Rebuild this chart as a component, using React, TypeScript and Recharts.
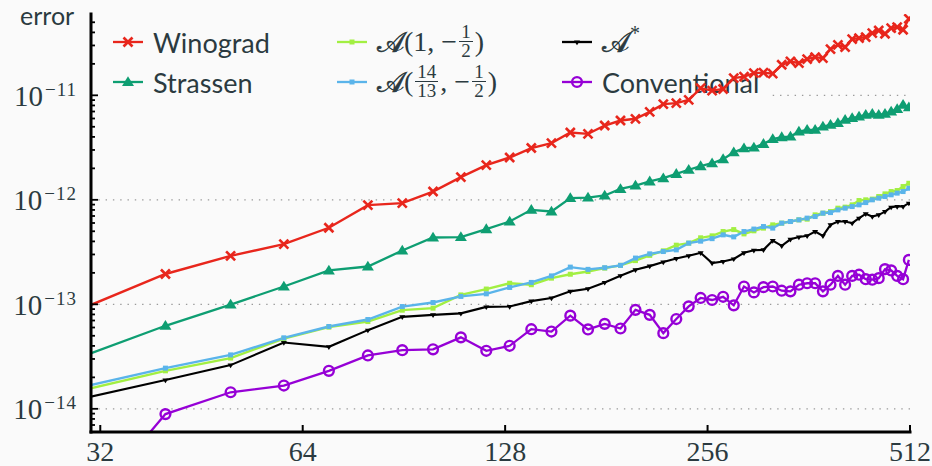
import React from 'react';
import { LineChart, Line, XAxis, YAxis, ReferenceLine } from 'recharts';

// ---------- data ----------
const sizes = [30, 40, 50, 60, 70, 80, 90, 100, 110, 120, 130, 140, 150, 160, 170, 180, 190, 200, 210, 220, 230, 240, 250, 260, 270, 280, 290, 300, 310, 320, 330, 340, 350, 360, 370, 380, 390, 400, 410, 420, 430, 440, 450, 460, 470, 480, 490, 500, 510];

const winograd = [9.06e-14, 1.95e-13, 2.91e-13, 3.77e-13, 5.4e-13, 8.9e-13, 9.3e-13,
  1.2e-12, 1.65e-12, 2.15e-12, 2.54e-12, 3.13e-12, 3.49e-12, 4.41e-12, 4.28e-12, 5.14e-12, 5.74e-12,
  5.96e-12, 6.95e-12, 8.24e-12, 8.42e-12, 9.06e-12, 1.17e-11, 1.11e-11, 1.15e-11, 1.46e-11, 1.51e-11,
  1.63e-11, 1.65e-11, 1.61e-11, 1.96e-11, 2.11e-11, 2.03e-11, 2.22e-11, 2.32e-11, 2.27e-11, 2.77e-11,
  3.04e-11, 2.89e-11, 3.45e-11, 3.53e-11, 3.61e-11, 3.94e-11, 4.17e-11, 3.88e-11, 4.4e-11, 4.5e-11,
  4.24e-11, 5.4e-11];

const strassen = [3.15e-14, 6.23e-14, 9.95e-14, 1.48e-13, 2.11e-13, 2.3e-13, 3.27e-13,
  4.36e-13, 4.4e-13, 5.24e-13, 6.2e-13, 8.02e-13, 7.73e-13, 1.04e-12, 1.05e-12, 1.1e-12, 1.27e-12,
  1.37e-12, 1.5e-12, 1.61e-12, 1.77e-12, 1.94e-12, 2.1e-12, 2.24e-12, 2.45e-12, 2.85e-12, 3.12e-12,
  3.16e-12, 3.43e-12, 3.81e-12, 3.98e-12, 4.03e-12, 4.5e-12, 4.68e-12, 4.68e-12, 5.03e-12, 5.22e-12,
  5.42e-12, 5.83e-12, 6.05e-12, 6.27e-12, 6.51e-12, 6.65e-12, 6.51e-12, 6.65e-12, 7.0e-12, 7.38e-12,
  8.11e-12, 7.68e-12];

const aHalf = [1.5e-14, 2.31e-14, 3.06e-14, 4.7e-14, 6.05e-14, 6.84e-14, 8.79e-14,
  9.19e-14, 1.23e-13, 1.4e-13, 1.59e-13, 1.54e-13, 1.78e-13, 1.94e-13, 2.06e-13, 2.22e-13, 2.36e-13,
  2.62e-13, 2.94e-13, 3.25e-13, 3.68e-13, 3.85e-13, 4.33e-13, 4.52e-13, 4.97e-13, 5.19e-13, 4.72e-13,
  5.05e-13, 5.36e-13, 5.76e-13, 5.98e-13, 6.2e-13, 6.43e-13, 6.53e-13, 7.18e-13, 7.45e-13, 7.72e-13,
  8.32e-13, 8.51e-13, 8.95e-13, 9.84e-13, 1.0e-12, 1.016e-12, 1.075e-12, 1.14e-12, 1.2e-12, 1.227e-12,
  1.34e-12, 1.44e-12];

const aFrac = [1.61e-14, 2.45e-14, 3.28e-14, 4.78e-14, 6.13e-14, 7.15e-14, 9.52e-14,
  1.04e-13, 1.19e-13, 1.26e-13, 1.45e-13, 1.62e-13, 1.87e-13, 2.27e-13, 2.16e-13, 2.24e-13, 2.36e-13,
  2.77e-13, 3.04e-13, 3.2e-13, 3.32e-13, 3.85e-13, 4.02e-13, 4.25e-13, 4.62e-13, 4.42e-13, 4.97e-13,
  5.25e-13, 5.55e-13, 5.36e-13, 5.98e-13, 6.2e-13, 6.43e-13, 6.68e-13, 6.92e-13, 7.45e-13, 7.55e-13,
  8.01e-13, 8.32e-13, 8.62e-13, 8.95e-13, 9.41e-13, 1.0e-12, 1.038e-12, 1.075e-12, 1.116e-12, 1.159e-12,
  1.2e-12, 1.29e-12];

const aStar = [1.25e-14, 1.89e-14, 2.62e-14, 4.31e-14, 3.92e-14, 5.66e-14, 7.59e-14,
  7.93e-14, 8.19e-14, 9.45e-14, 9.52e-14, 1.073e-13, 1.15e-13, 1.33e-13, 1.41e-13, 1.62e-13, 1.88e-13,
  2.14e-13, 2.32e-13, 2.54e-13, 2.74e-13, 2.91e-13, 3.11e-13, 2.48e-13, 2.57e-13, 2.72e-13, 3.11e-13,
  3.29e-13, 3.32e-13, 4.08e-13, 3.63e-13, 4.19e-13, 4.4e-13, 4.52e-13, 4.97e-13, 4.52e-13, 5.76e-13,
  6.2e-13, 6.2e-13, 5.98e-13, 6.68e-13, 7.34e-13, 6.92e-13, 7.18e-13, 7.72e-13, 8.51e-13, 8.62e-13,
  8.62e-13, 9.29e-13];

const conventional = [1.0e-15, 8.9e-15, 1.44e-14, 1.67e-14, 2.31e-14, 3.24e-14, 3.64e-14,
  3.71e-14, 4.83e-14, 3.59e-14, 4.01e-14, 5.78e-14, 5.49e-14, 7.79e-14, 5.75e-14, 6.5e-14, 5.87e-14,
  8.85e-14, 7.93e-14, 5.3e-14, 7.23e-14, 9.56e-14, 1.15e-13, 1.1e-13, 1.18e-13, 9.78e-14, 1.48e-13,
  1.3e-13, 1.46e-13, 1.48e-13, 1.35e-13, 1.33e-13, 1.54e-13, 1.59e-13, 1.59e-13, 1.33e-13, 1.54e-13,
  1.87e-13, 1.54e-13, 1.87e-13, 1.92e-13, 1.74e-13, 1.72e-13, 1.78e-13, 2.17e-13, 2.11e-13, 1.87e-13,
  1.74e-13, 2.66e-13];

const xTicks = [32, 64, 128, 256, 512];
const xDomain = [31, 512];
const yDomain = [6e-15, 6e-11];
const yMajor = [1e-14, 1e-13, 1e-12, 1e-11];
const yTicks = [7e-15, 8e-15, 9e-15,
  1e-14, 2e-14, 3e-14, 4e-14, 5e-14, 6e-14, 7e-14, 8e-14, 9e-14,
  1e-13, 2e-13, 3e-13, 4e-13, 5e-13, 6e-13, 7e-13, 8e-13, 9e-13,
  1e-12, 2e-12, 3e-12, 4e-12, 5e-12, 6e-12, 7e-12, 8e-12, 9e-12,
  1e-11, 2e-11, 3e-11, 4e-11, 5e-11];
const yExponents = ['\u221214', '\u221213', '\u221212', '\u221211'];

const rows = sizes.map((n, i) => ({
  n,
  winograd: winograd[i],
  strassen: strassen[i],
  aHalf: aHalf[i],
  aFrac: aFrac[i],
  aStar: aStar[i],
  conventional: conventional[i],
}));

// ---------- styles ----------
const TEXT = '#2b3a40';
const BG = '#fafafa';
const RED = '#e8261c';
const GREEN = '#0e9e72';
const LIME = '#a2ef42';
const BLUE = '#5ab4ea';
const PURPLE = '#9600d6';
const BLACK = '#000000';
const SERIF = '"Liberation Serif", "Times New Roman", serif';
const SANS = 'Lato, "Open Sans", sans-serif';

type MarkerKind = 'cross' | 'tri' | 'sq' | 'tridown' | 'circle';

function marker(kind: MarkerKind, cx: number, cy: number, color: string, key?: string) {
  if (kind === 'cross') {
    const s = 4.5;
    return (
      <g key={key}>
        <line x1={cx - s} y1={cy - s} x2={cx + s} y2={cy + s} stroke={color} strokeWidth={2.6} />
        <line x1={cx - s} y1={cy + s} x2={cx + s} y2={cy - s} stroke={color} strokeWidth={2.6} />
      </g>
    );
  }
  if (kind === 'tri') {
    return <polygon key={key} points={`${cx},${cy - 5.8} ${cx - 6},${cy + 4} ${cx + 6},${cy + 4}`} fill={color} />;
  }
  if (kind === 'sq') {
    return <rect key={key} x={cx - 2.5} y={cy - 2.5} width={5} height={5} fill={color} />;
  }
  if (kind === 'tridown') {
    return <polygon key={key} points={`${cx - 3},${cy - 1.5} ${cx + 3},${cy - 1.5} ${cx},${cy + 3.2}`} fill={color} />;
  }
  return <circle key={key} cx={cx} cy={cy} r={4.9} fill="none" stroke={color} strokeWidth={2.4} />;
}

const makeDot = (kind: MarkerKind, color: string) => (props: any) => {
  const { cx, cy, index } = props;
  if (cx == null || cy == null || !isFinite(cx) || !isFinite(cy)) return <g key={`e-${kind}-${index}`} />;
  return marker(kind, cx, cy, color, `d-${kind}-${index}`);
};

const BottomTick = (props: any) => {
  const { x, y, payload } = props;
  return (
    <g>
      <line x1={x} y1={y} x2={x} y2={y - 7} stroke={BLACK} strokeWidth={2} />
      <text x={x} y={y + 28.5} textAnchor="middle" fontFamily={SERIF} fontSize={28} fill={TEXT}>
        {payload.value}
      </text>
    </g>
  );
};

const TopTick = (props: any) => {
  const { x, y } = props;
  return <line x1={x} y1={y} x2={x} y2={y + 7} stroke={BLACK} strokeWidth={2} />;
};

const LeftTick = (props: any) => {
  const { x, y, payload } = props;
  const idx = yMajor.indexOf(payload.value);
  const major = idx >= 0;
  return (
    <g>
      <line x1={x} y1={y} x2={x + (major ? 7 : 4)} y2={y} stroke={BLACK} strokeWidth={1.8} />
      {major && (
        <text x={x - 14} y={y + 10.5} textAnchor="end" fontFamily={SERIF} fontSize={29} fill={TEXT}>
          10
          <tspan dx={2} dy={-10} fontSize={19} letterSpacing={1}>
            {yExponents[idx]}
          </tspan>
        </text>
      )}
    </g>
  );
};

const RightTick = (props: any) => {
  const { x, y, payload } = props;
  const major = yMajor.indexOf(payload.value) >= 0;
  return <line x1={x} y1={y} x2={x - (major ? 7 : 4)} y2={y} stroke={BLACK} strokeWidth={1.8} />;
};

const Frac = ({ n, d }: { n: string; d: string }) => (
  <span
    style={{
      display: 'inline-flex',
      flexDirection: 'column',
      alignItems: 'center',
      fontSize: 19,
      lineHeight: '16px',
      margin: '0 2px',
      position: 'relative',
      top: -1,
    }}
  >
    <span style={{ padding: '0 2px 1px' }}>{n}</span>
    <span style={{ borderTop: `1.4px solid ${TEXT}`, padding: '1px 2px 0' }}>{d}</span>
  </span>
);

const CalA = () => (
  <span style={{ fontFamily: '"DejaVu Sans", "DejaVu Serif", serif', fontSize: 29, WebkitTextStroke: `0.6px ${TEXT}` }}>{'\u{1D49C}'}</span>
);

const mathStyle: React.CSSProperties = {
  fontFamily: SERIF,
  fontSize: 28,
  color: TEXT,
  display: 'flex',
  alignItems: 'center',
  whiteSpace: 'nowrap',
};

const legendItems: { left: number; top: number; kind: MarkerKind; color: string; label: React.ReactNode }[] = [
  { left: 113, top: 42, kind: 'cross', color: RED, label: <span style={{ fontFamily: SANS, fontSize: 27, color: TEXT }}>Winograd</span> },
  { left: 113, top: 82, kind: 'tri', color: GREEN, label: <span style={{ fontFamily: SANS, fontSize: 27, color: TEXT }}>Strassen</span> },
  {
    left: 337, top: 42, kind: 'sq', color: LIME,
    label: (
      <span style={mathStyle}>
        <CalA />(1,&nbsp;{'\u2212'}<Frac n="1" d="2" />)
      </span>
    ),
  },
  {
    left: 337, top: 82, kind: 'sq', color: BLUE,
    label: (
      <span style={mathStyle}>
        <CalA />(<Frac n="14" d="13" />,&nbsp;{'\u2212'}<Frac n="1" d="2" />)
      </span>
    ),
  },
  {
    left: 562, top: 42, kind: 'tridown', color: BLACK,
    label: (
      <span style={mathStyle}>
        <CalA />
        <span style={{ fontSize: 20, position: 'relative', top: -9, marginLeft: 1 }}>*</span>
      </span>
    ),
  },
  { left: 562, top: 82, kind: 'circle', color: PURPLE, label: <span style={{ fontFamily: SANS, fontSize: 27, color: TEXT }}>Conventional</span> },
];

export default function App() {
  return (
    <div style={{ position: 'absolute', left: 0, top: 0, width: 932, height: 466, background: BG, overflow: 'hidden' }}>
      <div style={{ position: 'absolute', left: 20, top: 0, fontFamily: SANS, fontSize: 25, lineHeight: '30px', color: TEXT }}>error</div>

      {legendItems.map((it, i) => (
        <div
          key={i}
          style={{ position: 'absolute', left: it.left, top: it.top - 20, height: 40, display: 'flex', alignItems: 'center' }}
        >
          <svg width={30} height={40} style={{ display: 'block' }}>
            <line x1={0} y1={20} x2={30} y2={20} stroke={it.color} strokeWidth={2.3} />
            {marker(it.kind, 15, 20, it.color)}
          </svg>
          <div style={{ marginLeft: 10, display: 'flex', alignItems: 'center' }}>{it.label}</div>
        </div>
      ))}

      <div style={{ position: 'absolute', left: 0, top: 0 }}>
        <LineChart width={932} height={466} data={rows} margin={{ top: 14, right: 22, bottom: 0, left: 0 }}>
          <XAxis
            xAxisId="b"
            dataKey="n"
            type="number"
            scale="log"
            domain={xDomain}
            allowDataOverflow
            ticks={xTicks}
            interval={0}
            height={34}
            tickSize={0}
            tickMargin={0}
            tickLine={false}
            tick={<BottomTick />}
            axisLine={{ stroke: BLACK, strokeWidth: 3, strokeLinecap: 'square' }}
          />
          <XAxis
            xAxisId="t"
            orientation="top"
            dataKey="n"
            type="number"
            scale="log"
            domain={xDomain}
            allowDataOverflow
            ticks={xTicks}
            interval={0}
            height={0}
            tickSize={0}
            tickMargin={0}
            tickLine={false}
            tick={<TopTick />}
            axisLine={{ stroke: BLACK, strokeWidth: 3, strokeLinecap: 'square' }}
          />
          <YAxis
            yAxisId="l"
            type="number"
            scale="log"
            domain={yDomain}
            allowDataOverflow
            ticks={yTicks}
            interval={0}
            width={91}
            tickSize={0}
            tickMargin={0}
            tickLine={false}
            tick={<LeftTick />}
            axisLine={{ stroke: BLACK, strokeWidth: 3, strokeLinecap: 'square' }}
          />
          <YAxis
            yAxisId="r"
            orientation="right"
            type="number"
            scale="log"
            domain={yDomain}
            allowDataOverflow
            ticks={yTicks}
            interval={0}
            width={0}
            tickSize={0}
            tickMargin={0}
            tickLine={false}
            tick={<RightTick />}
            axisLine={{ stroke: BLACK, strokeWidth: 3, strokeLinecap: 'square' }}
          />
          {yMajor.slice(0, 3).map((v) => (
            <ReferenceLine key={`g${v}`} xAxisId="b" yAxisId="l" y={v} stroke="#9a9a9a" strokeWidth={1.3} strokeDasharray="1.4 5.9" />
          ))}
          <ReferenceLine
            xAxisId="b"
            yAxisId="l"
            segment={[{ x: 320, y: 1e-11 }, { x: 512, y: 1e-11 }]}
            stroke="#9a9a9a"
            strokeWidth={1.3}
            strokeDasharray="1.4 5.9"
          />
          <Line xAxisId="b" yAxisId="l" dataKey="conventional" stroke={PURPLE} strokeWidth={2.3} dot={makeDot('circle', PURPLE)} activeDot={false} isAnimationActive={false} />
          <Line xAxisId="b" yAxisId="l" dataKey="aStar" stroke={BLACK} strokeWidth={2.1} dot={makeDot('tridown', BLACK)} activeDot={false} isAnimationActive={false} />
          <Line xAxisId="b" yAxisId="l" dataKey="aHalf" stroke={LIME} strokeWidth={2.4} dot={makeDot('sq', LIME)} activeDot={false} isAnimationActive={false} />
          <Line xAxisId="b" yAxisId="l" dataKey="aFrac" stroke={BLUE} strokeWidth={2.4} dot={makeDot('sq', BLUE)} activeDot={false} isAnimationActive={false} />
          <Line xAxisId="b" yAxisId="l" dataKey="strassen" stroke={GREEN} strokeWidth={2.3} dot={makeDot('tri', GREEN)} activeDot={false} isAnimationActive={false} />
          <Line xAxisId="b" yAxisId="l" dataKey="winograd" stroke={RED} strokeWidth={2.4} dot={makeDot('cross', RED)} activeDot={false} isAnimationActive={false} />
        </LineChart>
      </div>
    </div>
  );
}
